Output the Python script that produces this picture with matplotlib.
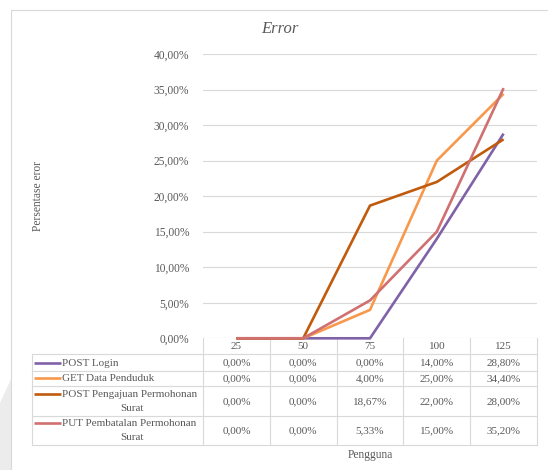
import matplotlib
matplotlib.use("Agg")
import matplotlib.pyplot as plt
from matplotlib.patches import Polygon, Rectangle

# Data: error percentage per number of users
users = [25, 50, 75, 100, 125]
series_names = [
    "POST Login",
    "GET Data Penduduk",
    "POST Pengajuan Permohonan\nSurat",
    "PUT Pembatalan Permohonan\nSurat",
]
post_login = [0.00, 0.00, 0.00, 14.00, 28.80]
get_data_penduduk = [0.00, 0.00, 4.00, 25.00, 34.40]
post_pengajuan = [0.00, 0.00, 18.67, 22.00, 28.00]
put_pembatalan = [0.00, 0.00, 5.33, 15.00, 35.20]
y_ticks = [0, 5, 10, 15, 20, 25, 30, 35, 40]

series_values = [post_login, get_data_penduduk, post_pengajuan, put_pembatalan]
colors = ["#7F62A8", "#F7984B", "#C05B0E", "#D07070"]

FONT = "Liberation Serif"
GRID = "#D9D9D9"
TEXT = "#595959"

W, H = 548, 470
fig = plt.figure(figsize=(W / 100, H / 100), dpi=100)
fig.patch.set_facecolor("white")

# Pixel-space overlay for frame, table and labels
ov = fig.add_axes([0, 0, 1, 1], zorder=0)
ov.set_xlim(0, W)
ov.set_ylim(H, 0)
ov.axis("off")

ov.add_patch(Polygon([[0, 403], [11, 379], [11, 470], [0, 470]],
                     closed=True, facecolor="#ECECEC", edgecolor="none"))
ov.add_patch(Rectangle((11, 10), 600, 500, facecolor="none",
                       edgecolor=GRID, lw=0.8))

# Plot area geometry (pixels)
px_left, px_right = 203, 537
px_top, px_bottom = 54, 338.3
ax = fig.add_axes([px_left / W, 1 - px_bottom / H,
                   (px_right - px_left) / W, (px_bottom - px_top) / H],
                  zorder=2)
ax.patch.set_alpha(0)
xs = list(range(len(users)))
for vals, c in zip(series_values, colors):
    ax.plot(xs, vals, color=c, lw=1.9, solid_capstyle="butt",
            solid_joinstyle="miter", clip_on=False)
ax.set_xlim(-0.5, len(users) - 0.5)
ax.set_ylim(0, 40)
ax.set_yticks(y_ticks)
ax.set_yticklabels([f"{t:.2f}".replace(".", ",") + "%" for t in y_ticks],
                   fontfamily=FONT, fontsize=8.3, color=TEXT)
ax.set_xticks([])
ax.tick_params(axis="y", length=0, pad=10)
ax.grid(axis="y", color=GRID, lw=0.8)
ax.set_axisbelow(True)
for s in ax.spines.values():
    s.set_visible(False)

# Title and axis titles
ov.text(280, 29, "Error", fontfamily=FONT, fontsize=12, style="italic",
        color=TEXT, ha="center", va="center")
ov.text(38, 196, "Persentase eror", fontfamily=FONT, fontsize=8.3,
        color=TEXT, rotation=90, ha="center", va="center")
ov.text(370, 455, "Pengguna", fontfamily=FONT, fontsize=8.3,
        color=TEXT, ha="center", va="center")

# Data table
col_w = (px_right - px_left) / len(users)
col_edges = [px_left + i * col_w for i in range(len(users) + 1)]
tbl_left = 32
row_edges = [338.3, 354.3, 370.7, 386.0, 415.7, 445.0]

lkw = dict(color=GRID, lw=0.8)
# header row verticals
for x in col_edges:
    ov.plot([x, x], [row_edges[0], row_edges[-1]], **lkw)
ov.plot([tbl_left, tbl_left], [row_edges[1], row_edges[-1]], **lkw)
for y in row_edges[1:]:
    ov.plot([tbl_left, px_right], [y, y], **lkw)

tk = dict(fontfamily=FONT, fontsize=8, color=TEXT, va="center")
for i, u in enumerate(users):
    ov.text(col_edges[i] + col_w / 2, (row_edges[0] + row_edges[1]) / 2 + 0.5,
            str(u), ha="center", **tk)

for r, (name, vals, c) in enumerate(zip(series_names, series_values, colors)):
    y0, y1 = row_edges[r + 1], row_edges[r + 2]
    yc = (y0 + y1) / 2
    lines = name.split("\n")
    if len(lines) == 1:
        ov.plot([34, 61], [yc, yc], color=c, lw=1.9, solid_capstyle="butt")
        ov.text(62, yc + 0.5, lines[0], ha="left", **tk)
    else:
        ya, yb = yc - 7, yc + 7
        ov.plot([34, 61], [ya, ya], color=c, lw=1.9, solid_capstyle="butt")
        ov.text(62, ya + 0.5, lines[0], ha="left", **tk)
        ov.text(132, yb + 0.5, lines[1], ha="center", **tk)
    for i, v in enumerate(vals):
        ov.text(col_edges[i] + col_w / 2, yc + 0.5,
                f"{v:.2f}".replace(".", ",") + "%", ha="center", **tk)

fig.savefig("out.png", dpi=100)
